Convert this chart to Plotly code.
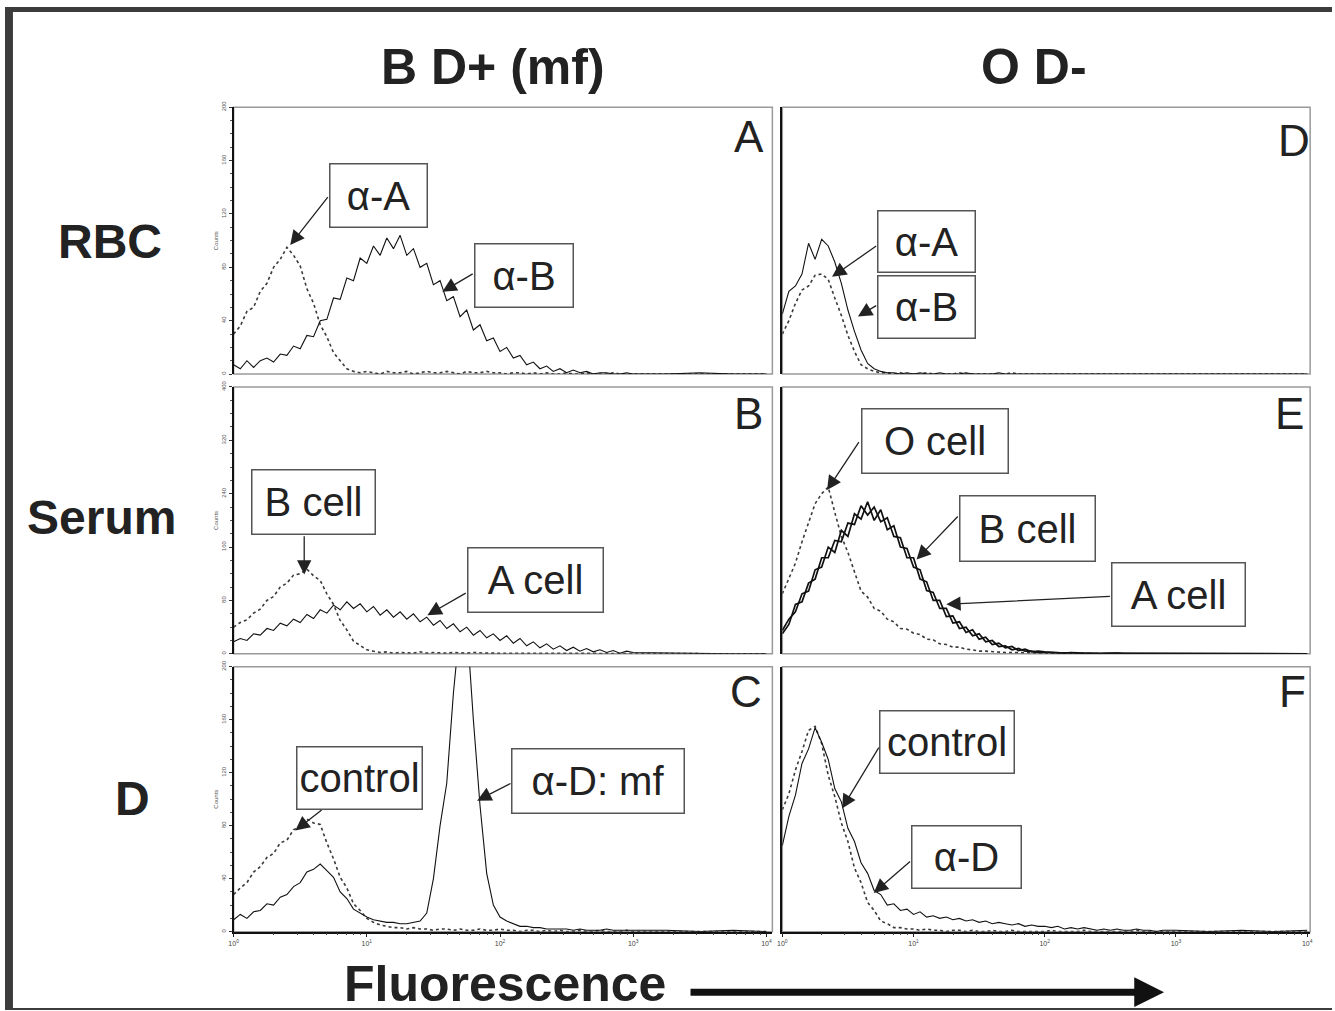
import math
import plotly.graph_objects as go

W, H = 1335, 1011
FONT = "Liberation Sans, Arial, sans-serif"

# ---------------- data (log10 fluorescence channel, counts) ----------------
LOG_CHANNEL = [
    0.00, 0.05, 0.10, 0.15, 0.20, 0.25, 0.30, 0.35, 0.40, 0.45,
    0.50, 0.55, 0.60, 0.65, 0.70, 0.75, 0.80, 0.85, 0.90, 0.95,
    1.00, 1.05, 1.10, 1.15, 1.20, 1.25, 1.30, 1.35, 1.40, 1.45,
    1.50, 1.55, 1.60, 1.65, 1.70, 1.75, 1.80, 1.85, 1.90, 1.95,
    2.00, 2.05, 2.10, 2.15, 2.20, 2.25, 2.30, 2.35, 2.40, 2.45,
    2.50, 2.55, 2.60, 2.65, 2.70, 2.75, 2.80, 2.85, 2.90, 2.95,
    3.00, 3.25, 3.50, 3.75, 4.00,
]

# Panel A : B D+ (mf) RBC
A_ANTI_A = [30, 36, 47, 50, 62, 68, 80, 86, 95, 89, 81, 64, 53, 37, 28, 16, 10, 4, 2, 1,
            2, 1, 0, 2, 1, 1, 2, 0, 1, 2, 1, 1, 2, 1, 0, 2, 1, 1, 2, 1,
            1, 0, 1, 1, 0, 1, 0, 1, 0, 0, 1, 0, 0, 1, 0, 0, 0, 1, 0, 0,
            0, 0, 0, 0, 0]
A_ANTI_B = [7, 4, 10, 5, 10, 12, 9, 15, 14, 21, 19, 29, 28, 40, 41, 57, 56, 72, 70, 87,
            83, 96, 89, 102, 94, 104, 89, 94, 80, 83, 67, 70, 55, 58, 43, 48, 33, 37, 25, 27,
            17, 20, 12, 14, 7, 9, 4, 6, 2, 4, 1, 3, 1, 2, 0, 1, 1, 0, 0, 1,
            0, 0, 1, 0, 0]
# Panel B : B D+ (mf) serum
B_B_CELL = [40, 47, 51, 61, 67, 80, 86, 100, 106, 118, 120, 127, 117, 110, 90, 74, 50, 36, 19, 12,
            6, 4, 2, 3, 1, 2, 2, 1, 3, 1, 2, 1, 1, 2, 1, 1, 2, 1, 1, 1,
            1, 0, 1, 1, 0, 1, 0, 1, 0, 0, 1, 0, 0, 1, 0, 0, 0, 1, 0, 0,
            0, 0, 0, 0, 0]
B_A_CELL = [18, 23, 20, 30, 28, 38, 35, 46, 42, 52, 47, 59, 53, 66, 61, 73, 66, 78, 68, 75,
            63, 71, 58, 66, 55, 63, 52, 60, 48, 55, 43, 50, 38, 45, 33, 40, 28, 35, 24, 30,
            20, 27, 16, 23, 12, 18, 9, 15, 7, 12, 5, 10, 4, 8, 3, 6, 2, 5, 1, 4,
            2, 1, 1, 0, 0]
# Panel C : B D+ (mf) anti-D
C_CONTROL = [28, 33, 37, 45, 49, 56, 59, 67, 69, 77, 79, 85, 82, 81, 67, 55, 41, 33, 21, 16,
             10, 7, 5, 4, 3, 3, 2, 3, 2, 2, 1, 2, 2, 1, 2, 1, 1, 2, 1, 1,
             2, 1, 1, 0, 1, 1, 0, 1, 0, 1, 0, 0, 1, 0, 0, 1, 0, 0, 0, 1,
             0, 0, 0, 0, 0]
C_ANTI_D = [9, 13, 10, 15, 16, 21, 20, 26, 28, 34, 37, 45, 47, 51, 46, 41, 30, 25, 17, 14,
            11, 9, 8, 7, 7, 6, 6, 7, 8, 14, 40, 80, 112, 180, 232, 234, 160, 95, 44, 20,
            11, 8, 6, 4, 4, 3, 3, 2, 2, 2, 2, 1, 2, 1, 1, 1, 2, 1, 1, 1,
            1, 1, 0, 1, 0]
# Panel D : O D- RBC
D_ANTI_A = [45, 62, 66, 75, 98, 86, 101, 96, 84, 68, 48, 32, 18, 8, 4, 2, 1, 1, 0, 1,
            0, 1, 0, 0, 1, 0, 0, 0, 1, 0, 0, 0, 0, 1, 0, 0, 0, 0, 0, 0,
            0, 0, 0, 0, 0, 0, 0, 0, 0, 0, 0, 0, 0, 0, 0, 0, 0, 0, 0, 0,
            0, 0, 0, 0, 0]
D_ANTI_B = [30, 40, 53, 63, 66, 74, 75, 71, 57, 44, 29, 17, 7, 4, 2, 1, 1, 0, 1, 0,
            0, 0, 1, 0, 0, 0, 0, 1, 0, 0, 0, 0, 0, 0, 0, 1, 0, 0, 0, 0,
            0, 0, 0, 0, 0, 0, 0, 0, 0, 0, 0, 0, 0, 0, 0, 0, 0, 0, 0, 0,
            0, 0, 0, 0, 0]
# Panel E : O D- serum
E_O_CELL = [90, 112, 136, 168, 195, 225, 240, 250, 212, 176, 152, 124, 94, 85, 68, 64, 52, 48, 38, 37,
            31, 29, 22, 21, 15, 14, 10, 10, 7, 6, 4, 4, 3, 3, 2, 2, 2, 1, 2, 1,
            1, 1, 0, 1, 1, 0, 1, 0, 0, 1, 0, 0, 1, 0, 0, 0, 1, 0, 0, 0,
            0, 0, 0, 0, 0]
E_B_CELL = [35, 52, 63, 90, 94, 126, 130, 160, 152, 185, 176, 210, 202, 228, 200, 216, 186, 192, 160, 158,
            130, 126, 95, 92, 68, 68, 46, 48, 32, 36, 22, 25, 14, 16, 9, 11, 5, 7, 3, 4,
            3, 2, 2, 1, 2, 1, 1, 1, 0, 1, 1, 0, 1, 0, 1, 0, 0, 1, 0, 0,
            0, 0, 0, 0, 0]
E_A_CELL = [30, 44, 74, 78, 106, 112, 144, 144, 170, 168, 196, 194, 222, 208, 220, 198, 204, 176, 174, 144,
            144, 112, 108, 80, 80, 56, 57, 38, 40, 27, 30, 18, 20, 11, 12, 6, 8, 4, 4, 2,
            2, 2, 1, 2, 1, 1, 0, 1, 1, 0, 1, 1, 0, 0, 1, 0, 1, 0, 0, 1,
            0, 0, 0, 0, 0]
# Panel F : O D- anti-D
F_CONTROL = [92, 104, 122, 136, 152, 155, 142, 118, 102, 82, 68, 48, 37, 22, 16, 8, 6, 3, 3, 2,
             2, 1, 2, 1, 1, 0, 1, 1, 0, 1, 0, 0, 1, 0, 0, 1, 0, 0, 0, 0,
             0, 1, 0, 0, 0, 0, 1, 0, 0, 0, 0, 0, 0, 0, 1, 0, 0, 0, 0, 0,
             0, 0, 0, 0, 0]
F_ANTI_D = [65, 87, 103, 127, 138, 154, 143, 130, 108, 98, 78, 68, 52, 44, 31, 28, 20, 21, 16, 17,
            13, 15, 11, 12, 10, 11, 9, 10, 8, 9, 7, 8, 6, 7, 6, 5, 6, 4, 5, 4,
            4, 3, 4, 2, 3, 2, 3, 2, 1, 2, 1, 2, 1, 1, 2, 1, 1, 0, 1, 1,
            1, 0, 1, 0, 1]

X_TICK_VALUES = [0, 1, 2, 3, 4]
X_TICK_TEXT = ["10<sup>0</sup>", "10<sup>1</sup>", "10<sup>2</sup>", "10<sup>3</sup>", "10<sup>4</sup>"]
COLUMN_TITLES = ["B D+ (mf)", "O D-"]
ROW_TITLES = ["RBC", "Serum", "D"]

# ---------------- layout helpers ----------------
def xdom(l, r):
    return [l / W, r / W]

def ydom(t, b):
    return [1 - b / H, 1 - t / H]

DOT = dict(color="#3a3a3a", width=1.6, dash="dot")
SOLID = dict(color="#111111", width=1.1)
THICK = dict(color="#111111", width=1.7)

panels = [
    dict(n=1, xp=(230, 772), yp=(101, 370), ymax=200, dt=40, mdt=10, left=True, bottom=False,
         traces=[(A_ANTI_A, DOT), (A_ANTI_B, SOLID)], letter="A", lp=(3.866, 177.7)),
    dict(n=2, xp=(230, 772), yp=(383, 652), ymax=400, dt=80, mdt=20, left=True, bottom=False,
         traces=[(B_B_CELL, DOT), (B_A_CELL, SOLID)], letter="B", lp=(3.866, 359.9)),
    dict(n=3, xp=(230, 772), yp=(665, 932), ymax=200, dt=40, mdt=10, left=True, bottom=True,
         traces=[(C_CONTROL, DOT), (C_ANTI_D, SOLID)], letter="C", lp=(3.843, 181.3)),
    dict(n=4, xp=(782, 1313), yp=(101, 370), ymax=200, dt=40, mdt=10, left=False, bottom=False,
         traces=[(D_ANTI_B, DOT), (D_ANTI_A, SOLID)], letter="D", lp=(3.902, 174.7)),
    dict(n=5, xp=(782, 1313), yp=(383, 652), ymax=400, dt=80, mdt=20, left=False, bottom=False,
         traces=[(E_O_CELL, DOT), (E_B_CELL, THICK), (E_A_CELL, THICK)], letter="E", lp=(3.864, 359.9)),
    dict(n=6, xp=(782, 1313), yp=(665, 932), ymax=200, dt=40, mdt=10, left=False, bottom=True,
         traces=[(F_CONTROL, DOT), (F_ANTI_D, SOLID)], letter="F", lp=(3.886, 181.3)),
]

fig = go.Figure()
layout = dict(
    width=W, height=H, margin=dict(l=0, r=0, t=0, b=0),
    paper_bgcolor="white", plot_bgcolor="white", showlegend=False,
    font=dict(family=FONT, color="#222"),
)
shapes, annotations = [], []
minor_vals = [d + math.log10(k) for d in range(4) for k in range(2, 10)]

for p in panels:
    n = p["n"]
    sx = "" if n == 1 else str(n)
    xname, yname = "xaxis" + sx, "yaxis" + sx
    xr, yr = "x" + sx, "y" + sx
    xmax = (p["xp"][1] - p["xp"][0]) / (134.0 if p["left"] else 132.0)
    for vals, style in p["traces"]:
        fig.add_trace(go.Scatter(x=LOG_CHANNEL, y=vals, mode="lines", line=style,
                                 xaxis=xr, yaxis=yr, hoverinfo="skip"))
    xa = dict(domain=xdom(*p["xp"]), anchor=yr, range=[0, xmax], showgrid=False,
              zeroline=False, fixedrange=True)
    if p["bottom"]:
        xa.update(showline=True, linecolor="#111", linewidth=1.5, ticks="outside",
                  ticklen=4, tickcolor="#222", tickvals=X_TICK_VALUES, ticktext=X_TICK_TEXT,
                  tickfont=dict(size=7, color="#444"),
                  minor=dict(tickvals=minor_vals, ticks="outside", ticklen=2, tickcolor="#444"))
    else:
        xa.update(showline=False, showticklabels=False, ticks="")
    ya = dict(domain=ydom(*p["yp"]), anchor=xr, range=[0, p["ymax"]], showgrid=False,
              zeroline=False, fixedrange=True, showline=True, linecolor="#111", linewidth=1.5)
    if p["left"]:
        ya.update(ticks="outside", ticklen=3, tickcolor="#333", dtick=p["dt"],
                  tickangle=-90, tickfont=dict(size=6, color="#555"),
                  minor=dict(dtick=p["mdt"], ticks="outside", ticklen=2, tickcolor="#555"),
                  title=dict(text="Counts", font=dict(size=6, color="#555"), standoff=2))
    else:
        ya.update(showticklabels=False, ticks="")
    layout[xname] = xa
    layout[yname] = ya
    shapes.append(dict(type="rect", xref=xr + " domain", yref=yr + " domain",
                       x0=0, x1=1, y0=0, y1=1, line=dict(color="#9a9a9a", width=1.5),
                       layer="below"))
    annotations.append(dict(xref=xr, yref=yr, x=p["lp"][0], y=p["lp"][1], text=p["letter"],
                            showarrow=False, font=dict(size=44, color="#222")))

labels = [
    (1, "α-A", (1.086, 134.2), 99, 65, (0.716, 133.8), (0.425, 96.7)),
    (1, "α-B", (2.179, 74.0), 100, 65, (1.806, 75.8), (1.567, 61.7)),
    (2, "B cell", (0.601, 227.5), 125, 66, (0.530, 178.4), (0.530, 119.0)),
    (2, "A cell", (2.265, 110.0), 137, 66, (1.754, 92.2), (1.455, 58.0)),
    (3, "control", (0.944, 116.1), 127, 64, (0.672, 92.7), (0.463, 76.4)),
    (3, "α-D: mf", (2.739, 113.9), 174, 66, (2.090, 112.4), (1.828, 98.9)),
    (4, "α-A", (1.102, 99.3), 99, 63, (0.727, 96.7), (0.379, 72.9)),
    (4, "α-B", (1.102, 50.6), 99, 64, (0.727, 52.0), (0.576, 43.1)),
    (5, "O cell", (1.167, 318.4), 148, 66, (0.591, 319.7), (0.341, 245.4)),
    (5, "B cell", (1.867, 188.1), 137, 67, (1.348, 208.2), (1.023, 141.3)),
    (5, "A cell", (3.019, 88.5), 135, 65, (2.508, 86.2), (1.250, 74.3)),
    (6, "control", (1.258, 143.1), 136, 64, (0.742, 140.1), (0.455, 92.9)),
    (6, "α-D", (1.405, 56.2), 111, 64, (0.985, 53.9), (0.697, 29.2)),
]
for n, text, c, w, h, tail, head in labels:
    sx = "" if n == 1 else str(n)
    xr, yr = "x" + sx, "y" + sx
    annotations.append(dict(xref=xr, yref=yr, x=head[0], y=head[1], axref=xr, ayref=yr,
                            ax=tail[0], ay=tail[1], text="", showarrow=True, arrowhead=2,
                            arrowsize=2.2, arrowwidth=1.3, arrowcolor="#222"))
    annotations.append(dict(xref=xr, yref=yr, x=c[0], y=c[1], text=text, showarrow=False,
                            width=w - 3, height=h - 3, borderpad=0, borderwidth=1.5,
                            bordercolor="#555", bgcolor="white", align="center",
                            valign="middle", font=dict(size=40, color="#222")))

def paper(xpx, ypx):
    return xpx / W, 1 - ypx / H

for text, (xp, yp), size in [
    (COLUMN_TITLES[0], (491, 60), 50), (COLUMN_TITLES[1], (1035, 60), 50),
    (ROW_TITLES[0], (106, 236), 48), (ROW_TITLES[1], (97, 515), 48),
    (ROW_TITLES[2], (128, 798), 48), ("Fluorescence", (503, 985), 50),
]:
    x, y = paper(xp, yp)
    annotations.append(dict(xref="paper", yref="paper", x=x, y=y, text="<b>" + text + "</b>",
                            showarrow=False, xanchor="center", yanchor="middle",
                            font=dict(size=size, color="#222")))

hx, hy = paper(1166, 993)
annotations.append(dict(xref="paper", yref="paper", x=hx, y=hy, axref="pixel", ayref="pixel",
                        ax=691 - 1166, ay=0, text="", showarrow=True, arrowhead=2, arrowsize=0.85,
                        arrowwidth=7, arrowcolor="#111"))

for x0, x1, y0, y1 in [(0, 1, 1 - 5 / H, 1), (0, 8 / W, 0, 1), (0, 1, 0, 2 / H)]:
    shapes.append(dict(type="rect", xref="paper", yref="paper", x0=x0, x1=x1, y0=y0, y1=y1,
                       fillcolor="#3c3c3c", line=dict(width=0), layer="above"))

layout["shapes"] = shapes
layout["annotations"] = annotations
fig.update_layout(**layout)
fig.write_html("out.html", config={"displayModeBar": False},
               post_script="document.body.style.margin='0';document.body.style.padding='0';"
                           "document.body.style.overflow='hidden';")
